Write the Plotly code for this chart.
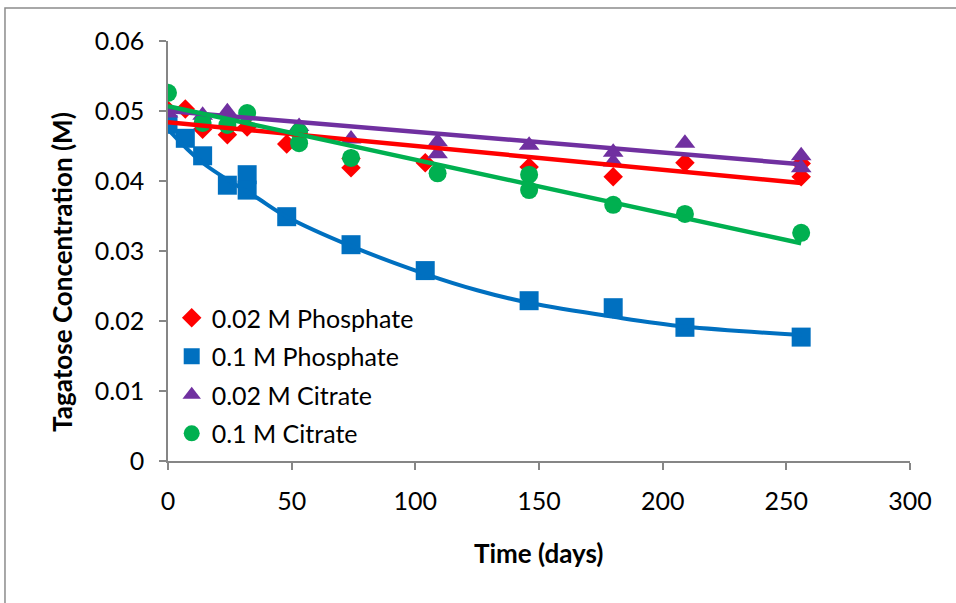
import plotly.graph_objects as go

# ---- data ----
names = ["0.02 M Phosphate", "0.1 M Phosphate", "0.02 M Citrate", "0.1 M Citrate"]

red_x = [0, 7, 14, 24, 32, 48, 74, 74, 104, 146, 180, 209, 256, 256]
red_y = [0.0501, 0.0503, 0.0474, 0.0466, 0.0477, 0.0453, 0.0419, 0.0432, 0.0426, 0.0420, 0.0406, 0.0426, 0.0406, 0.0425]

blue_x = [0, 7, 14, 24, 32, 32, 48, 74, 104, 146, 180, 209, 256]
blue_y = [0.0481, 0.0461, 0.0436, 0.0394, 0.0409, 0.0387, 0.0349, 0.0309, 0.0272, 0.0229, 0.0219, 0.0191, 0.0177]

purple_x = [0, 14, 24, 53, 74, 109, 109, 146, 180, 180, 209, 256, 256]
purple_y = [0.0497, 0.0494, 0.0499, 0.0478, 0.0460, 0.0456, 0.0439, 0.0451, 0.0441, 0.0427, 0.0454, 0.0436, 0.0419]

green_x = [0, 14, 24, 32, 53, 53, 74, 109, 146, 146, 180, 209, 256]
green_y = [0.0526, 0.0483, 0.0480, 0.0497, 0.0470, 0.0454, 0.0433, 0.0411, 0.0409, 0.0387, 0.0366, 0.0353, 0.0326]

# trend lines
red_fit_x = [0, 256]
red_fit_y = [0.0484, 0.0397]
purple_fit_x = [0, 256]
purple_fit_y = [0.0500, 0.0424]
green_fit_x = [0, 256]
green_fit_y = [0.0507, 0.0311]
blue_fit_x = [0, 14, 36, 48, 74, 105, 125, 146, 180, 209, 256]
blue_fit_y = [0.0474, 0.0426, 0.0376, 0.0349, 0.0307, 0.0266, 0.0244, 0.0226, 0.0206, 0.0192, 0.0180]

x_ticks = [0, 50, 100, 150, 200, 250, 300]
y_ticks = [0, 0.01, 0.02, 0.03, 0.04, 0.05, 0.06]

RED, BLUE, PURPLE, GREEN = "#FF0000", "#0070C0", "#7030A0", "#00B050"
FONT = "Lato"
AXIS_GRAY = "#868686"

fig = go.Figure()

marker_series = [
    (red_x, red_y, names[0], RED, "diamond", 15),
    (blue_x, blue_y, names[1], BLUE, "square", 19),
    (purple_x, purple_y, names[2], PURPLE, "triangle-up", 18),
    (green_x, green_y, names[3], GREEN, "circle", 18),
]
for i, (xs, ys, nm, col, sym, sz) in enumerate(marker_series):
    fig.add_trace(go.Scatter(x=xs, y=ys, mode="markers", name=nm, legendgroup=f"g{i}",
                             marker=dict(color=col, symbol=sym, size=sz, line=dict(width=0))))

fit_series = [
    (red_fit_x, red_fit_y, RED, "linear", 4.5),
    (blue_fit_x, blue_fit_y, BLUE, "spline", 4),
    (purple_fit_x, purple_fit_y, PURPLE, "linear", 4.5),
    (green_fit_x, green_fit_y, GREEN, "linear", 4.5),
]
for xs, ys, col, shp, w in fit_series:
    fig.add_trace(go.Scatter(x=xs, y=ys, mode="lines", showlegend=False, hoverinfo="skip",
                             line=dict(color=col, width=w, shape=shp)))

fig.update_layout(
    width=956, height=603,
    margin=dict(l=168, r=46, t=41, b=142, autoexpand=False),
    paper_bgcolor="white", plot_bgcolor="white",
    font=dict(family=FONT, size=25, color="black"),
    showlegend=True,
    legend=dict(x=0.005, y=0.395, xanchor="left", yanchor="top",
                bgcolor="rgba(0,0,0,0)", font=dict(family=FONT, size=25, color="black"),
                traceorder="grouped", tracegroupgap=3),
    xaxis=dict(range=[0, 300], tickvals=x_ticks, showgrid=False, zeroline=False,
               showline=True, linecolor=AXIS_GRAY, linewidth=1.5,
               ticks="outside", ticklen=7, tickwidth=1.5, tickcolor=AXIS_GRAY,
               tickfont=dict(family=FONT, size=25), ticklabelstandoff=10),
    yaxis=dict(range=[0, 0.06], tickvals=y_ticks, showgrid=False, zeroline=False,
               showline=True, linecolor=AXIS_GRAY, linewidth=1.5,
               ticks="outside", ticklen=7, tickwidth=1.5, tickcolor=AXIS_GRAY,
               tickfont=dict(family=FONT, size=25), ticklabelstandoff=10),
    annotations=[
        dict(text="<b>Time (days)</b>", xref="paper", yref="paper", x=0.5, y=-0.219,
             showarrow=False, font=dict(family=FONT, size=26), xanchor="center", yanchor="middle"),
        dict(text="<b>Tagatose Concentration (M)</b>", xref="paper", yref="paper", x=-0.143, y=0.45,
             showarrow=False, textangle=-90, font=dict(family=FONT, size=26),
             xanchor="center", yanchor="middle"),
    ],
    shapes=[
        dict(type="rect", xref="paper", yref="paper", x0=-0.2197, x1=1.3, y0=-0.6, y1=1.0786,
             line=dict(color="#8c8c8c", width=1.5), fillcolor="rgba(0,0,0,0)", layer="below"),
    ],
)

fig.write_html("out.html")
